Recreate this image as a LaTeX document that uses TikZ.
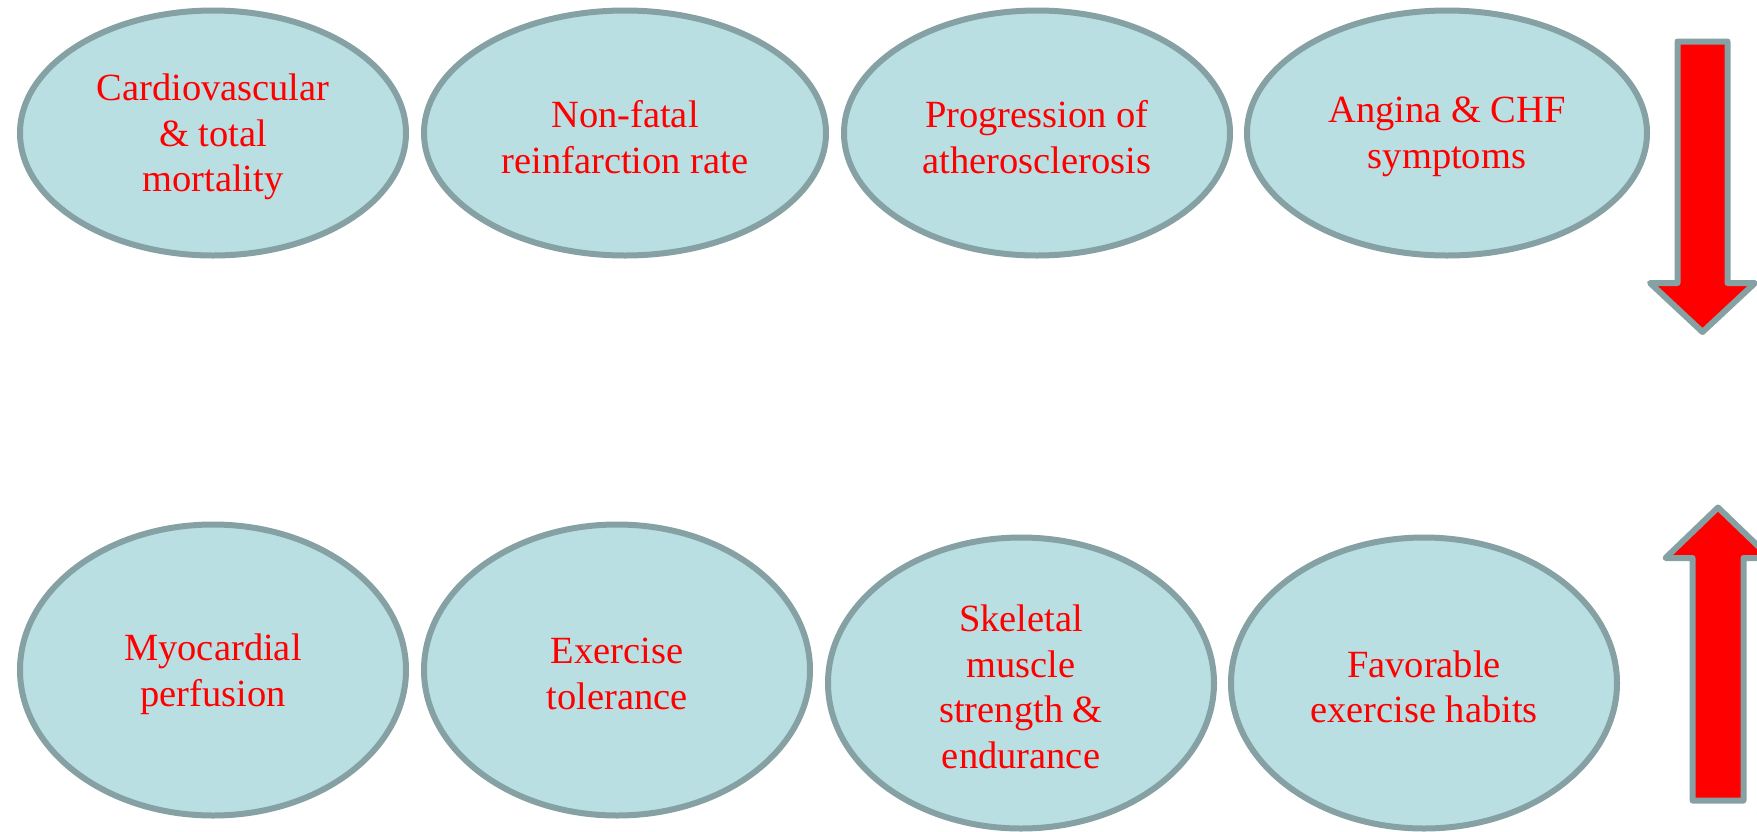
\documentclass[tikz,border=0pt]{standalone}
\usepackage{fontspec}
\newfontfamily\timesfont{Liberation Serif}
\usetikzlibrary{shapes.geometric}
\definecolor{ellfill}{HTML}{B9DFE3}
\definecolor{ellline}{HTML}{86A1A4}
\definecolor{txtred}{HTML}{FF0000}
\tikzset{
  oval/.style={ellipse, draw=ellline, line width=6pt, fill=ellfill, inner sep=0pt,
    minimum width=386pt, minimum height=245pt},
  ovaltext/.style={align=center, text=txtred, inner sep=0pt, yshift=-4pt,
    font=\timesfont\fontsize{38.5}{45.5}\selectfont},
  tall/.style={minimum height=291pt},
  bigarrow/.style={draw=ellline, line width=6pt, fill=red, line join=round}
}
\begin{document}
\begin{tikzpicture}[x=1pt,y=-1pt]
\useasboundingbox (0,0) rectangle (1757,831);
\node[oval, label={[ovaltext]center:Cardiovascular\\\& total\\mortality}] (cvd) at (213,133) {};
\node[oval, minimum width=402pt, label={[ovaltext]center:Non-fatal\\reinfarction rate}] (nfr) at (625,133) {};
\node[oval, label={[ovaltext]center:Progression of\\atherosclerosis}] (athero) at (1037,133) {};
\node[oval, minimum width=400pt, label={[ovaltext]center:Angina \& CHF\\symptoms}] (angina) at (1447,133) {};
\node[oval, tall, label={[ovaltext]center:Myocardial\\perfusion}] (perf) at (213,670) {};
\node[oval, tall, label={[ovaltext]center:Exercise\\tolerance}] (tol) at (617,670) {};
\node[oval, tall, label={[ovaltext]center:Skeletal\\muscle\\strength \&\\endurance}] (skel) at (1021,683) {};
\node[oval, tall, label={[ovaltext]center:Favorable\\exercise habits}] (habits) at (1424,683) {};
% down arrow
\draw[bigarrow] (1677.5,41.5) -- (1727.5,41.5) -- (1727.5,283) -- (1755,283) -- (1702.5,332)
  -- (1650,283) -- (1677.5,283) -- cycle;
% up arrow
\draw[bigarrow] (1692.5,800.5) -- (1743.5,800.5) -- (1743.5,558) -- (1770.5,558) -- (1718,507.5)
  -- (1665.5,558) -- (1692.5,558) -- cycle;
\end{tikzpicture}
\end{document}
